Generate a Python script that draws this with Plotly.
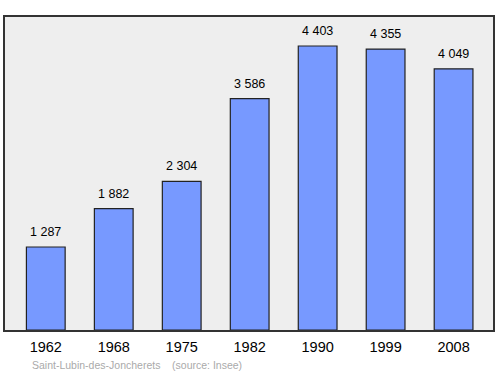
import plotly.graph_objects as go

years = ["1962", "1968", "1975", "1982", "1990", "1999", "2008"]
population = [1287, 1882, 2304, 3586, 4403, 4355, 4049]
source_text = "Saint-Lubin-des-Joncherets    (source: Insee)"

labels = [f"{v:,}".replace(",", " ") for v in population]
xpos = list(range(len(years)))

fig = go.Figure()
fig.add_trace(go.Bar(
    x=xpos, y=population, width=0.57,
    marker=dict(color="#7799ff", line=dict(color="#222222", width=1.2)),
    hoverinfo="skip",
))

for x, v, t in zip(xpos, population, labels):
    fig.add_annotation(x=x, y=v, text=t, showarrow=False, yanchor="bottom",
                       yshift=6, font=dict(size=12.5, color="#000000"))

fig.add_annotation(x=0.051, y=-0.112, xref="paper", yref="paper", text=source_text,
                   showarrow=False, font=dict(size=10.5, color="#aaaaaa"),
                   xanchor="left", yanchor="middle")

fig.update_layout(
    width=500, height=374,
    margin=dict(l=5, r=5, t=17, b=44),
    paper_bgcolor="white", plot_bgcolor="#eeeeee",
    font=dict(family="Liberation Sans, Arial, sans-serif"),
    showlegend=False,
)

fig.update_xaxes(range=[-0.6, 6.58], tickmode="array", tickvals=xpos, ticktext=years,
                 tickfont=dict(size=14.5, color="#000000"), ticks="", ticklabelstandoff=3,
                 showgrid=False, zeroline=False, showline=True, mirror=True,
                 linecolor="#333333", linewidth=1.5, fixedrange=True)
fig.update_yaxes(range=[0, 4853], showticklabels=False, ticks="", showgrid=False,
                 zeroline=False, showline=True, mirror=True, linecolor="#333333", linewidth=1.5,
                 fixedrange=True)

fig.write_html("out.html", config={"displayModeBar": False})
